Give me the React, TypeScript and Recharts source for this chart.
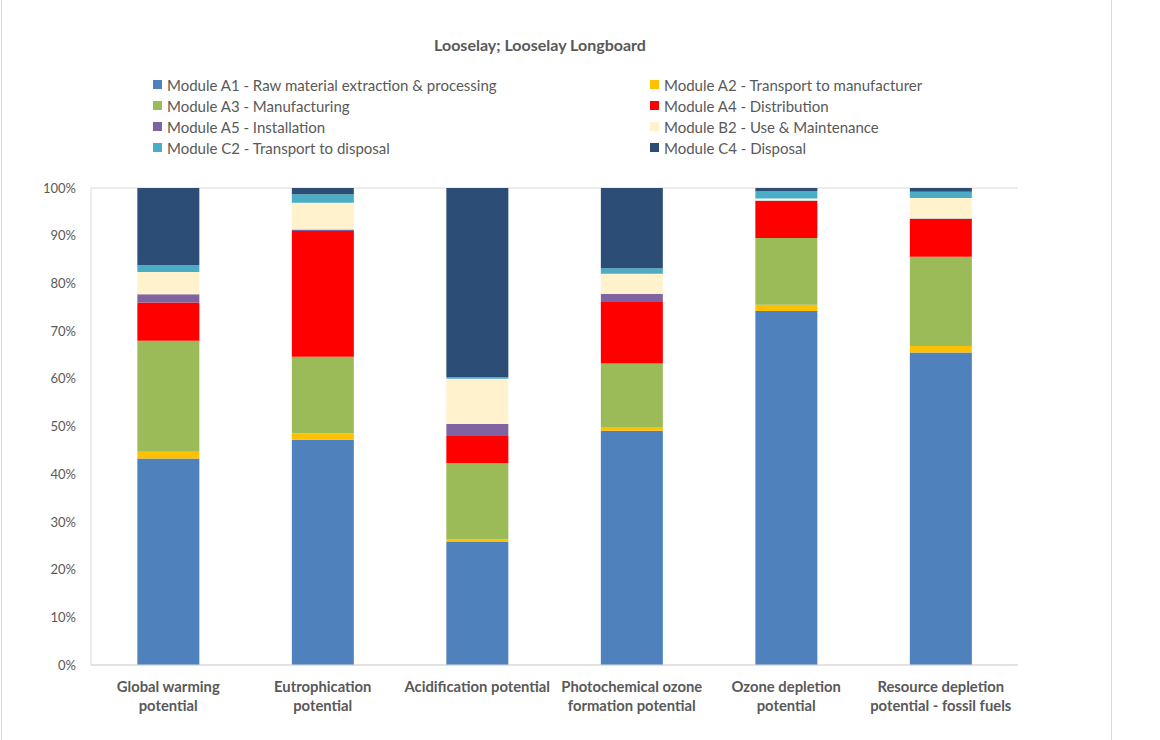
import React from "react";
import { BarChart, Bar, XAxis, YAxis, CartesianGrid, Legend } from "recharts";

const categories = [
  "Global warming\npotential",
  "Eutrophication\npotential",
  "Acidification potential",
  "Photochemical ozone\nformation potential",
  "Ozone depletion\npotential",
  "Resource depletion\npotential - fossil fuels",
];

const seriesNames = [
  "Module A1 - Raw material extraction & processing",
  "Module A2 - Transport to manufacturer",
  "Module A3 - Manufacturing",
  "Module A4 - Distribution",
  "Module A5 - Installation",
  "Module B2 - Use & Maintenance",
  "Module C2 - Transport to disposal",
  "Module C4 - Disposal",
];

const seriesColors = [
  "#4f81bd",
  "#ffc000",
  "#9bbb59",
  "#ff0000",
  "#8064a2",
  "#fff2cc",
  "#4bacc6",
  "#2c4d75",
];

const a1 = [43.3, 47.2, 25.8, 49.1, 74.2, 65.5];
const a2 = [1.4, 1.4, 0.5, 0.8, 1.3, 1.4];
const a3 = [23.3, 16.0, 16.0, 13.3, 14.0, 18.7];
const a4 = [8.0, 26.4, 5.7, 12.9, 7.8, 7.9];
const a5 = [1.7, 0.3, 2.5, 1.7, 0.1, 0.1];
const b2 = [4.7, 5.6, 9.5, 4.2, 0.4, 4.3];
const c2 = [1.4, 1.8, 0.4, 1.2, 1.5, 1.3];
const c4 = [16.2, 1.3, 39.6, 16.8, 0.7, 0.8];

const seriesValues = [a1, a2, a3, a4, a5, b2, c2, c4];
const yTicks = [0, 10, 20, 30, 40, 50, 60, 70, 80, 90, 100];

const keys = ["a1", "a2", "a3", "a4", "a5", "b2", "c2", "c4"];

const data = categories.map((c, i) => {
  const row: any = { name: c };
  keys.forEach((k, j) => {
    row[k] = seriesValues[j][i];
  });
  return row;
});

const FONT = "Lato, 'Open Sans', sans-serif";
const TEXT = "#595959";

const XTick = (props: any) => {
  const { x, y, payload } = props;
  const lines = String(payload.value).split("\n");
  return (
    <g transform={`translate(${x},${y})`}>
      {lines.map((l: string, i: number) => (
        <text
          key={i}
          x={0}
          y={0}
          dy={18.5 + i * 19}
          textAnchor="middle"
          fill={TEXT}
          fontFamily={FONT}
          fontWeight="bold"
          fontSize={14.8}
        >
          {l}
        </text>
      ))}
    </g>
  );
};

const LegendContent = () => {
  return (
    <div
      style={{
        display: "grid",
        gridTemplateColumns: "497px 400px",
        gridAutoRows: "21px",
        height: 84,
        fontFamily: FONT,
        fontSize: 15,
        color: TEXT,
      }}
    >
      {seriesNames.map((n, i) => (
        <div key={n} style={{ display: "flex", alignItems: "center", whiteSpace: "nowrap" }}>
          <span
            style={{
              display: "inline-block",
              width: 9,
              height: 9,
              background: seriesColors[i],
              marginRight: 5,
            }}
          />
          <span>{n}</span>
        </div>
      ))}
    </div>
  );
};

export default function App() {
  return (
    <div
      style={{
        position: "absolute",
        left: 0,
        top: 0,
        width: 1160,
        height: 740,
        background: "#fff",
      }}
    >
      <div
        style={{
          position: "absolute",
          left: 1,
          top: 0,
          width: 1111,
          height: 740,
          borderLeft: "1px solid #d9d9d9",
          borderRight: "1px solid #d9d9d9",
          boxSizing: "border-box",
        }}
      />
      <BarChart
        width={1160}
        height={740}
        data={data}
        margin={{ top: 104, right: 142, bottom: 15, left: 0 }}
        barCategoryGap="30%"
      >
        <text
          x={540}
          y={51}
          textAnchor="middle"
          fill={TEXT}
          fontFamily={FONT}
          fontWeight="bold"
          fontSize={16}
        >
          Looselay; Looselay Longboard
        </text>
        <Legend
          verticalAlign="top"
          align="left"
          content={LegendContent}
          wrapperStyle={{ position: "absolute", top: 74, left: 153, width: 900, height: 84 }}
        />
        <CartesianGrid vertical={false} stroke="#d9d9d9" />
        <XAxis
          dataKey="name"
          tick={<XTick />}
          tickLine={false}
          axisLine={{ stroke: "#d9d9d9" }}
          height={60}
          interval={0}
        />
        <YAxis
          yAxisId="left"
          width={91}
          domain={[0, 100]}
          ticks={yTicks}
          tickFormatter={(v: number) => `${v}%`}
          tickLine={false}
          axisLine={{ stroke: "#d9d9d9" }}
          tickMargin={9}
          tick={{ fill: TEXT, fontFamily: FONT, fontSize: 13 }}
          allowDataOverflow
        />
        <YAxis
          yAxisId="right"
          orientation="right"
          width={0}
          domain={[0, 100]}
          tick={false}
          tickLine={false}
          axisLine={{ stroke: "#d9d9d9" }}
        />
        {keys.map((k, i) => (
          <Bar
            key={k}
            yAxisId="left"
            dataKey={k}
            name={seriesNames[i]}
            stackId="s"
            fill={seriesColors[i]}
            isAnimationActive={false}
          />
        ))}
      </BarChart>
    </div>
  );
}
